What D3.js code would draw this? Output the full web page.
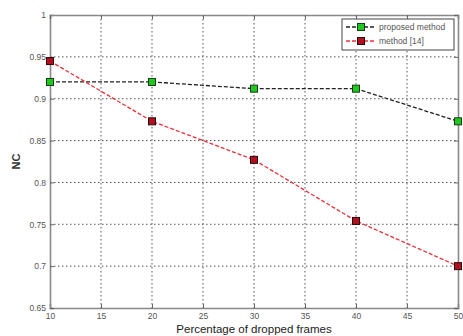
<!DOCTYPE html>
<html><head><meta charset="utf-8">
<script src="https://cdn.jsdelivr.net/npm/d3@7"></script>
<style>body{margin:0;background:#fff}svg{display:block}</style>
</head><body><svg id="c" width="463" height="336"></svg>
<script>
const xValues = [10, 20, 30, 40, 50];
const proposed = [0.92, 0.92, 0.912, 0.912, 0.873];
const method14 = [0.945, 0.873, 0.827, 0.754, 0.70];
const xTicks = [10, 15, 20, 25, 30, 35, 40, 45, 50];
const yTicks = [0.65, 0.7, 0.75, 0.8, 0.85, 0.9, 0.95, 1];
const seriesNames = ["proposed method", "method [14]"];

const svg = d3.select("#c");
const L = 50, R = 458, T = 15, B = 308;
const x = d3.scaleLinear().domain([10, 50]).range([L, R]);
const y = d3.scaleLinear().domain([0.65, 1]).range([B, T]);
const fmt = d => d3.format("")(+d.toFixed(2));

// grid
const g = svg.append("g");
g.selectAll(".vx").data(xTicks.slice(1, -1)).enter().append("line")
  .attr("x1", d => x(d)).attr("x2", d => x(d)).attr("y1", T).attr("y2", B)
  .attr("stroke", "#555").attr("stroke-width", 1).attr("stroke-dasharray", "1.5,2.5");
g.selectAll(".hy").data(yTicks.slice(1, -1)).enter().append("line")
  .attr("y1", d => y(d)).attr("y2", d => y(d)).attr("x1", L).attr("x2", R)
  .attr("stroke", "#555").attr("stroke-width", 1).attr("stroke-dasharray", "1.5,2.5");

// axes
const ax = svg.append("g").attr("transform", `translate(0,${B})`)
  .call(d3.axisBottom(x).tickValues(xTicks).tickSize(-4).tickPadding(5).tickFormat(fmt));
const ay = svg.append("g").attr("transform", `translate(${L},0)`)
  .call(d3.axisLeft(y).tickValues(yTicks).tickSize(-4).tickPadding(4).tickFormat(fmt));
const axT = svg.append("g").attr("transform", `translate(0,${T})`)
  .call(d3.axisTop(x).tickValues(xTicks).tickSize(-4).tickFormat(""));
const ayR = svg.append("g").attr("transform", `translate(${R},0)`)
  .call(d3.axisRight(y).tickValues(yTicks).tickSize(-4).tickFormat(""));
[ax, ay, axT, ayR].forEach(a => {
  a.select(".domain").attr("stroke", "#888").attr("stroke-width", 1.6);
  a.selectAll(".tick line").attr("stroke", "#666");
  a.selectAll("text").attr("font-family", "Liberation Sans, Arial, sans-serif")
    .attr("font-size", 8.5).attr("fill", "#555");
});

// series
const line = d3.line().x((d, i) => x(xValues[i])).y(d => y(d));
svg.append("path").datum(proposed).attr("d", line).attr("fill", "none")
  .attr("stroke", "#222").attr("stroke-width", 1.3).attr("stroke-dasharray", "4,2");
svg.append("path").datum(method14).attr("d", line).attr("fill", "none")
  .attr("stroke", "#e8303a").attr("stroke-width", 1.3).attr("stroke-dasharray", "4,2");
const S = 7;
svg.selectAll(".mp").data(proposed).enter().append("rect")
  .attr("x", (d, i) => x(xValues[i]) - S / 2).attr("y", d => y(d) - S / 2)
  .attr("width", S).attr("height", S).attr("fill", "#1ec81e").attr("stroke", "#1a3a1a").attr("stroke-width", 1);
svg.selectAll(".mm").data(method14).enter().append("rect")
  .attr("x", (d, i) => x(xValues[i]) - S / 2).attr("y", d => y(d) - S / 2)
  .attr("width", S).attr("height", S).attr("fill", "#b01020").attr("stroke", "#2a0a0a").attr("stroke-width", 1);

// legend
const lg = svg.append("g");
lg.append("rect").attr("x", 342).attr("y", 19).attr("width", 112).attr("height", 31)
  .attr("fill", "#fff").attr("stroke", "#444").attr("stroke-width", 1);
const lcol = [["#222", "#1ec81e", "#1a3a1a"], ["#e8303a", "#b01020", "#2a0a0a"]];
seriesNames.forEach((n, i) => {
  const yy = 27 + i * 14;
  lg.append("line").attr("x1", 346).attr("x2", 376).attr("y1", yy).attr("y2", yy)
    .attr("stroke", lcol[i][0]).attr("stroke-width", 1.3).attr("stroke-dasharray", "4,2");
  lg.append("rect").attr("x", 361 - 3.5).attr("y", yy - 3.5).attr("width", 7).attr("height", 7)
    .attr("fill", lcol[i][1]).attr("stroke", lcol[i][2]);
  lg.append("text").attr("x", 379).attr("y", yy + 3).text(n)
    .attr("font-family", "Liberation Sans, Arial, sans-serif").attr("font-size", 8.5).attr("fill", "#555");
});

// titles
svg.append("text").attr("x", (L + R) / 2).attr("y", 333).attr("text-anchor", "middle")
  .attr("font-family", "Liberation Sans, Arial, sans-serif").attr("font-size", 11.5).attr("fill", "#222")
  .text("Percentage of dropped frames");
svg.append("text").attr("transform", `translate(20,${(T + B) / 2}) rotate(-90)`).attr("text-anchor", "middle")
  .attr("font-family", "Liberation Sans, Arial, sans-serif").attr("font-size", 11).attr("font-weight", "bold").attr("fill", "#333")
  .text("NC");
</script></body></html>
